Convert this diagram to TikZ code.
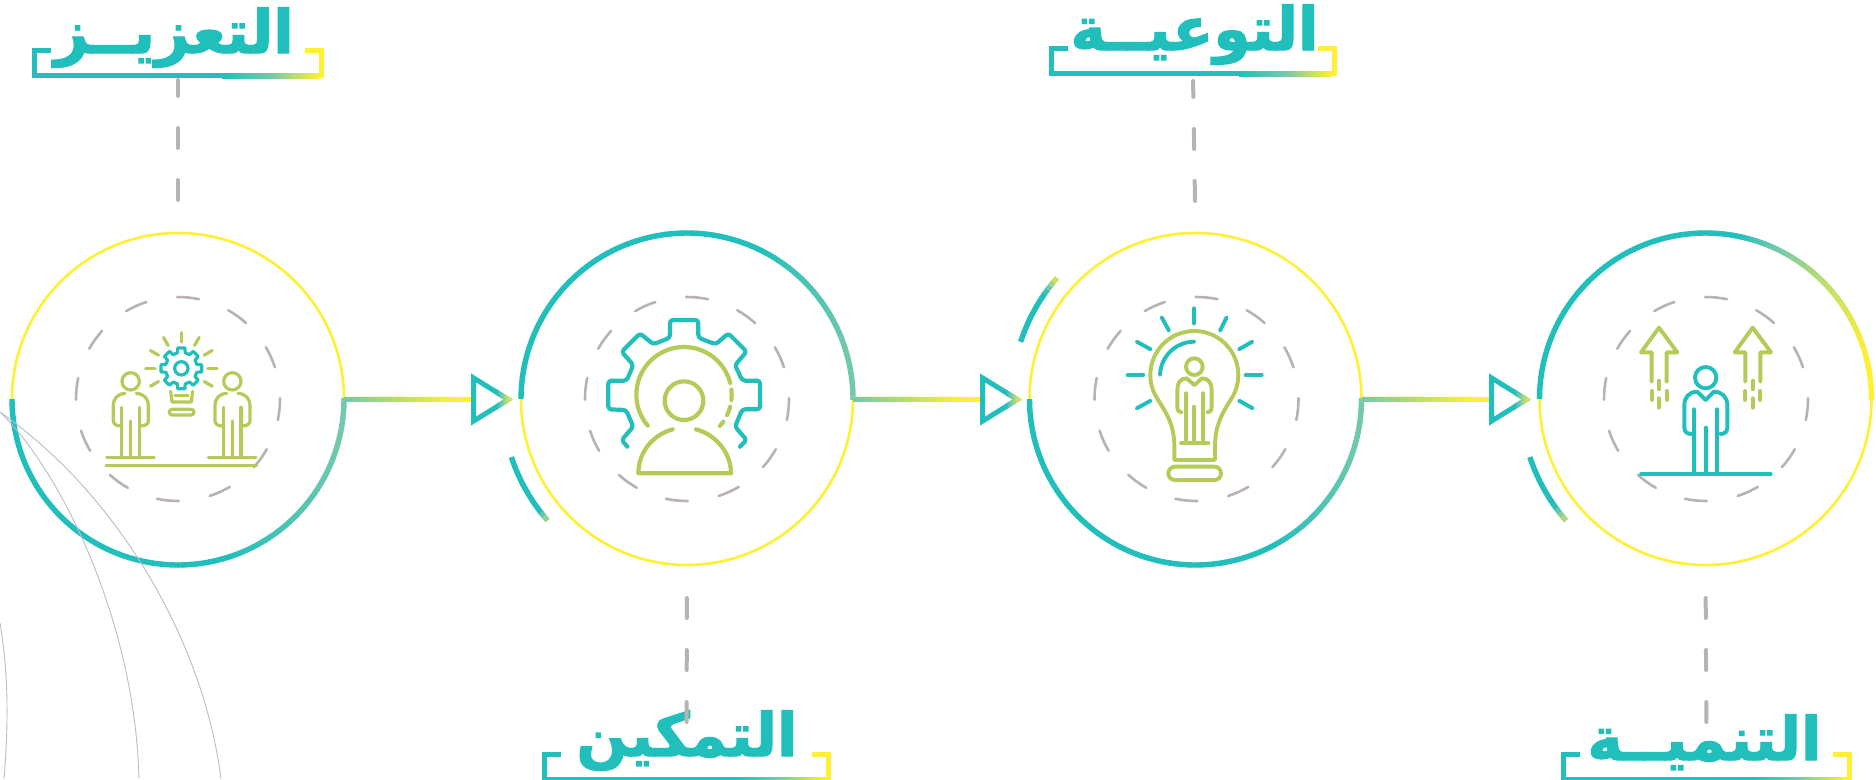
\documentclass[tikz,border=0pt]{standalone}
\usepackage{fontspec}
\usetikzlibrary{calc}
\TeXXeTstate=1
\newfontfamily\arabicfont[Script=Arabic,FakeBold=2]{DejaVu Sans}
\definecolor{tealc}{HTML}{20BFBC}
\definecolor{midc}{HTML}{74C9AC}
\definecolor{ylwc}{HTML}{FFF033}
\definecolor{grnc}{HTML}{B5CB58}
\definecolor{grayc}{HTML}{B8B3B0}
\definecolor{curvec}{HTML}{B9BCCB}
\tikzset{
  bigc/.style={circle,draw=ylwc,line width=2.6pt,minimum size=332pt,inner sep=0pt,outer sep=0pt},
  brackbox/.style={rectangle,minimum width=#1,minimum height=30pt,inner sep=0pt,outer sep=0pt},
  titlec/.style={anchor=base,text=tealc,inner sep=0pt,font=\arabicfont\bfseries\fontsize{60}{66}\selectfont},
  dashc/.style={draw=grayc,line width=4pt,line cap=round,dash pattern=on 20pt off 32pt},
  ringc/.style={draw=grayc,line width=2.6pt,line cap=round},
  icong/.style={draw=grnc,line width=#1,line cap=round,line join=round},
  icont/.style={draw=tealc,line width=#1,line cap=round,line join=round},
  hair/.style={draw=curvec,line width=0.9pt},
  zoomed/.style 2 args={xshift=#1pt,yshift=-#2pt,x=0.33333pt,y=-0.33333pt},
}
% colour of the gradient teal -> pale green -> yellow, at #1 percent
\newcommand{\setgrad}[1]{%
  \pgfmathtruncatemacro{\lowpart}{#1<30?1:0}%
  \ifnum\lowpart=1
    \pgfmathsetmacro{\qmix}{#1/30*100}%
    \colorlet{gradc}{midc!\qmix!tealc}%
  \else
    \pgfmathsetmacro{\qmix}{(#1-30)/70*100}%
    \colorlet{gradc}{ylwc!\qmix!midc}%
  \fi
}
% gradient arc: cx cy r a1 a2 x0 x1 pmax
\newcommand{\gradarc}[8]{%
  \pgfmathtruncatemacro{\nsg}{max(6,abs(#5-#4)/1.5)}%
  \foreach \i in {1,...,\nsg}{%
    \pgfmathsetmacro{\angA}{#4+(#5-#4)/\nsg*(\i-1)}%
    \pgfmathsetmacro{\angB}{\angA+(#5-#4)/\nsg*1.2}%
    \pgfmathsetmacro{\xm}{#1+#3*cos(\angA)}%
    \pgfmathsetmacro{\pcv}{max(0,min(#8,(\xm-#6)/(#7-#6)*#8))}%
    \setgrad{\pcv}%
    \draw[line width=5.4pt,draw=gradc] ({#1+#3*cos(\angA)},{#2+#3*sin(\angA)}) arc[start angle=\angA,end angle=\angB,radius=#3];
  }%
}
% dashed ring
\newcommand{\dashring}[2]{%
  \foreach \k in {0,...,11}{%
    \pgfmathsetmacro{\angA}{-90.5+30*\k}%
    \pgfmathsetmacro{\angB}{\angA+12.4}%
    \draw[ringc] ({#1+102*cos(\angA)},{#2+102*sin(\angA)}) arc[start angle=\angA,end angle=\angB,radius=102];
  }%
}
% gradient connector from a circle's east anchor to the triangle
\newcommand{\flowline}[2]{%
  \draw[line width=5pt,draw=ylwc] (#1.east) -- (#2);
  \foreach \i in {1,...,36}{%
    \pgfmathsetmacro{\pcv}{30+70*(\i-1)/36}%
    \setgrad{\pcv}%
    \draw[line width=5pt,draw=gradc] ([xshift={(\i-1)*3pt}]#1.east) -- ([xshift={\i*3pt+0.4pt}]#1.east);
  }%
}
% hollow triangle with a yellowing tip
\newcommand{\tritip}[1]{%
  \draw[draw=tealc,line width=5pt,miter limit=10] ([xshift=2.5pt,yshift=21.6pt]#1) -- ([xshift=2.5pt,yshift=-21.6pt]#1) -- ([xshift=37.3pt]#1) -- cycle;
  \foreach \i in {1,...,11}{%
    \pgfmathsetmacro{\pcv}{100*(\i-1)/10}%
    \setgrad{\pcv}%
    \begin{scope}
      \clip ([xshift={25pt+(\i-1)*1.6pt},yshift=-30pt]#1) rectangle ([xshift={25pt+\i*1.6pt+0.3pt},yshift=30pt]#1);
      \draw[draw=gradc,line width=5pt,miter limit=10] ([xshift=2.5pt,yshift=21.6pt]#1) -- ([xshift=2.5pt,yshift=-21.6pt]#1) -- ([xshift=37.3pt]#1) -- cycle;
    \end{scope}
  }%
}
% title bracket
\newcommand{\titlebrack}[1]{%
  \draw[line width=5pt,draw=tealc,miter limit=10] ([xshift=19pt,yshift=-2.5pt]#1.north west) -- ([xshift=2.5pt,yshift=-2.5pt]#1.north west) -- ([xshift=2.5pt,yshift=2.5pt]#1.south west) -- ([xshift=190pt,yshift=2.5pt]#1.south west);
  \shade[left color=tealc,right color=ylwc,middle color=midc] ([xshift=190pt]#1.south west) rectangle ([xshift=-5pt,yshift=5pt]#1.south east);
  \draw[line width=5pt,draw=ylwc] ([xshift=-19pt,yshift=-2.5pt]#1.north east) -- ([xshift=-2.5pt,yshift=-2.5pt]#1.north east) -- ([xshift=-2.5pt]#1.south east);
}
\begin{document}
\begin{tikzpicture}[x=1pt,y=-1pt]
\useasboundingbox (0,0) rectangle (1876,779);
\fill[white] (0,0) rectangle (1876,779);

% big circles
\node[bigc] (c1) at (178,399) {};
\node[bigc] (c2) at (687,399) {};
\node[bigc] (c3) at (1195.5,399) {};
\node[bigc] (c4) at (1705.5,399) {};

% brackets and titles
\node[brackbox=292pt] (b1) at (178,63) {};
\node[brackbox=289pt] (b2) at (686.5,767) {};
\node[brackbox=288pt] (b3) at (1193,61) {};
\node[brackbox=291pt] (b4) at (1706.5,767) {};
\titlebrack{b1}\titlebrack{b2}\titlebrack{b3}\titlebrack{b4}
\node[titlec] (l1) at (174,53) {\beginR التعزيــز\endR};
\node[titlec] (l2) at (687,756) {\beginR التمكين\endR};
\node[titlec] (l3) at (1194.5,50) {\beginR التوعيــة\endR};
\node[titlec] (l4) at (1704.5,760) {\beginR التنميــة\endR};

% dashed connectors title <-> circle
\draw[dashc,dash phase=4pt,shorten <=2pt,shorten >=31pt] (b1.south) -- (c1.north);
\draw[dashc,dash phase=4pt,shorten <=5pt,shorten >=31pt] (b3.south) -- (c3.north);
\draw[dashc,shorten <=33pt,shorten >=30pt] (c2.south) -- (b2.north);
\draw[dashc,shorten <=33pt,shorten >=30pt] (c4.south) -- (b4.north);

% thick gradient arcs on the circles
\gradarc{178}{399}{166}{180}{0}{225}{344}{30}
\gradarc{687}{399}{166}{180}{360}{760}{853}{30}
\gradarc{1195.5}{399}{166}{180}{0}{1270}{1362}{30}
\gradarc{1705.5}{399}{166}{180}{360}{1735}{1868}{100}

% short outer arcs
\gradarc{687}{399}{185}{161.7}{139.2}{538}{547}{70}
\gradarc{1195.5}{399}{184}{198.1}{220.9}{1043}{1057}{100}
\gradarc{1705.5}{399}{185}{161.7}{139.2}{1553}{1566}{80}

% connectors with triangles
\coordinate (t1) at (471,399.5);
\coordinate (t2) at (980,399.5);
\coordinate (t3) at (1489,399.5);
\flowline{c1}{t1}\flowline{c2}{t2}\flowline{c3}{t3}
\tritip{t1}\tritip{t2}\tritip{t3}

% dashed rings
\dashring{178}{399}\dashring{687}{399}\dashring{1196.5}{399}\dashring{1706}{399}

% background hairlines
\draw[hair] (0,412) .. controls (125,500) and (205,650) .. (221,779);
\draw[hair] (0,412) .. controls (60,470) and (135,620) .. (139,779);
\draw[hair] (0,623) .. controls (8,670) and (9,720) .. (4,779);

% ---- icon 1
\begin{scope}[zoomed={60}{280}]
  \draw[icont=3.2pt] (364,265) circle[radius=20];
  \draw[icont=3.2pt] ({364+48*cos(-104)},{265+48*sin(-104)})
    \foreach \k [evaluate=\k as \a using 45*\k-90] in {0,...,7}{
      -- ({364+48*cos(\a-14)},{265+48*sin(\a-14)})
      -- ({364+62*cos(\a-10)},{265+62*sin(\a-10)})
      -- ({364+62*cos(\a+10)},{265+62*sin(\a+10)})
      -- ({364+48*cos(\a+14)},{265+48*sin(\a+14)})
    } -- cycle;
  \foreach \a in {-90,-60,-30,0,30,150,180,210,240}
    \draw[icong=3.2pt] ({364+79*cos(\a)},{265+79*sin(\a)}) -- ({364+107*cos(\a)},{265+107*sin(\a)});
  \draw[icong=3.2pt] (332,334) -- (336,366) -- (394,366) -- (398,334);
  \draw[icong=3.2pt] (345,346) -- (384,346);
  \draw[icong=3.2pt,rounded corners=2.8pt] (328,388) rectangle (402,405);
  \foreach \dx in {0,305}{
    \begin{scope}[xshift=\dx*0.33333pt]
      \draw[icong=3.2pt] (212,304) circle[radius=26];
      \draw[icong=3.2pt] (195,340) .. controls (172,342) and (160,355) .. (160,378) -- (160,422) .. controls (160,432) and (168,438) .. (183,438);
      \draw[icong=3.2pt] (229,340) .. controls (252,342) and (265,355) .. (265,378) -- (265,422) .. controls (265,432) and (257,438) .. (240,438);
      \draw[icong=3.2pt] (185,382) -- (185,530);
      \draw[icong=3.2pt] (238,382) -- (238,530);
      \draw[icong=3.2pt] (212,423) -- (212,530);
      \draw[icong=3.2pt] (140,532) -- (283,532);
    \end{scope}
  }
  \draw[icong=3.4pt] (138,557) -- (590,557);
\end{scope}

% ---- icon 2
\begin{scope}[zoomed={540}{290}]
  \draw[icont=4.2pt,rounded corners=3pt] (262,470) -- (245,450) -- (280,410) -- (258,360) -- (205,358) -- (205,272) -- (260,272) -- (280,225) -- (245,185) -- (300,130) -- (340,163) -- (390,143) -- (390,90) -- (475,90) -- (475,143) -- (527,163) -- (565,130) -- (620,185) -- (585,225) -- (607,272) -- (660,272) -- (660,358) -- (607,358) -- (585,410) -- (620,450) -- (600,470);
  \draw[icong=4.2pt] (432,332) circle[radius=58];
  \draw[icong=4.2pt] ({432+143*cos(139.5)},{314+143*sin(139.5)}) arc[start angle=139.5,end angle=346,radius=143];
  \draw[icong=4.2pt] ({432+143*cos(-6)},{314+143*sin(-6)}) arc[start angle=-6,end angle=6.5,radius=143];
  \draw[icong=4.2pt] ({432+143*cos(14.6)},{314+143*sin(14.6)}) arc[start angle=14.6,end angle=25.5,radius=143];
  \draw[icong=4.2pt] ({432+143*cos(34.5)},{314+143*sin(34.5)}) arc[start angle=34.5,end angle=41,radius=143];
  \draw[icong=4.2pt] (398,418) .. controls (335,435) and (295,490) .. (295,550) -- (573,550) .. controls (573,490) and (530,435) .. (468,418);
\end{scope}

% ---- icon 3
\begin{scope}[zoomed={1080}{290}]
  \foreach \xa/\ya/\xb/\yb in {343/55/343/100,245/82/267/122,170/155/212/178,143/255/190/255,170/355/212/332,440/82/420/122,517/155/477/178,545/255/497/255,518/355/477/332}
    \draw[icont=3.9pt] (\xa,\ya) -- (\xb,\yb);
  \draw[icong=3.9pt] ({343+132*cos(150.5)},{255+132*sin(150.5)}) arc[start angle=150.5,end angle=389.5,radius=132] .. controls (430,365) and (405,400) .. (405,470) -- (405,510) -- (283,510) -- (283,470) .. controls (283,400) and (256,365) .. cycle;
  \draw[icont=3.9pt] ({343+103*cos(182)},{258+103*sin(182)}) arc[start angle=182,end angle=270,radius=103];
  \draw[icong=3.9pt,rounded corners=6.6pt] (265,530) rectangle (423,570);
  \draw[icong=3.9pt] (343,230) circle[radius=25];
  \draw[icong=3.9pt] (343,285) -- (320,265) .. controls (300,265) and (292,280) .. (292,300) -- (292,352) .. controls (292,362) and (298,367) .. (305,367);
  \draw[icong=3.9pt] (343,285) -- (366,265) .. controls (386,265) and (395,280) .. (395,300) -- (395,352) .. controls (395,362) and (389,367) .. (382,367);
  \draw[icong=3.9pt] (317,310) -- (317,458);
  \draw[icong=3.9pt] (370,310) -- (370,458);
  \draw[icong=3.9pt] (343,350) -- (343,458);
  \draw[icong=3.9pt] (303,460) -- (385,460);
\end{scope}

% ---- icon 4
\begin{scope}[zoomed={1590}{290}]
  \foreach \dx in {0,281}{
    \begin{scope}[xshift=\dx*0.33333pt]
      \draw[icong=3.9pt] (185,275) -- (185,187) -- (153,187) -- (207,113) -- (262,187) -- (230,187) -- (230,275);
      \draw[icong=3.9pt] (207,272) -- (207,298);
      \draw[icong=3.9pt] (185,303) -- (185,330);
      \draw[icong=3.9pt] (230,303) -- (230,330);
      \draw[icong=3.9pt] (207,325) -- (207,353);
    \end{scope}
  }
  \draw[icont=3.9pt] (347,263) circle[radius=32];
  \draw[icont=3.9pt] (347,330) -- (322,305) .. controls (298,305) and (283,322) .. (283,345) -- (283,412) .. controls (283,425) and (290,432) .. (305,432);
  \draw[icont=3.9pt] (347,330) -- (372,305) .. controls (396,305) and (412,322) .. (412,345) -- (412,412) .. controls (412,425) and (405,432) .. (390,432);
  \draw[icont=3.9pt] (313,358) -- (313,552);
  \draw[icont=3.9pt] (382,358) -- (382,552);
  \draw[icont=3.9pt] (347,413) -- (347,552);
  \draw[icont=3.9pt] (153,553) -- (542,553);
\end{scope}
\end{tikzpicture}
\end{document}
